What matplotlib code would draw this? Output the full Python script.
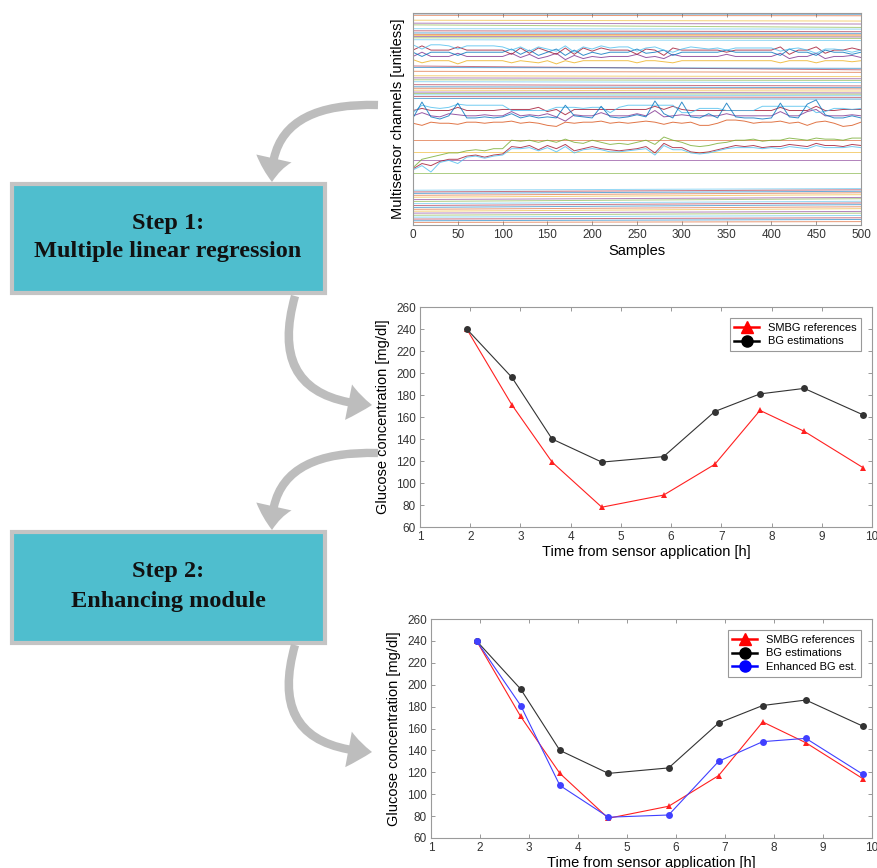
import matplotlib

matplotlib.use("Agg")
import matplotlib.pyplot as plt  # noqa: E402
from matplotlib.lines import Line2D  # noqa: E402
from matplotlib.patches import FancyArrowPatch, Rectangle  # noqa: E402
from matplotlib.path import Path  # noqa: E402

plt.rcParams["font.family"] = ["Liberation Sans", "DejaVu Sans"]

# --- top panel: multisensor channels (arbitrary units, 0..100) ---
sample_grid = list(range(0, 501, 10))

# near-flat channels: level at sample 0 and at sample 500
flat_start = [99.6, 98.9, 96.6, 95.2, 94.4, 92.6, 91.6, 90.6, 89.9, 89.4, 88.9,
              88.3, 87.4, 75.0, 74.3, 72.5, 70.4, 69.4, 68.5, 67.6, 66.2, 65.2,
              64.5, 63.6, 62.7, 62.0, 61.4, 60.6, 59.7, 40.2, 34.4, 30.7, 24.5,
              16.4, 15.6, 14.9, 14.0, 13.1, 12.0, 11.1, 10.1, 9.2, 8.3, 7.4,
              6.5, 5.6, 4.6, 3.7, 2.8, 2.0, 1.2]
flat_end = [99.4, 98.7, 96.2, 94.8, 93.2, 92.4, 91.2, 90.4, 89.7, 89.2, 88.7,
            88.0, 87.0, 73.2, 73.9, 72.0, 70.0, 69.0, 68.2, 67.2, 65.6, 64.8,
            64.2, 63.2, 62.3, 61.7, 61.0, 60.2, 59.4, 40.2, 34.4, 30.7, 24.5,
            17.2, 16.6, 15.9, 15.2, 14.3, 13.0, 12.4, 11.2, 10.4, 9.6, 8.6,
            7.7, 6.4, 5.6, 4.5, 3.4, 2.6, 1.6]

# noisy channels, read every 10 samples
n1_cyan = [85.0, 83.0, 85.0, 85.0, 84.5, 83.0, 84.5, 84.5, 84.5, 84.5, 84.0,
           82.5, 84.0, 82.0, 84.0, 83.0, 82.0, 84.5, 81.5, 84.0, 83.0, 84.5,
           83.5, 84.0, 84.0, 82.0, 83.5, 84.0, 82.5, 81.5, 83.0, 84.0, 83.5,
           83.0, 83.5, 82.5, 83.5, 83.5, 83.5, 83.5, 83.5, 82.0, 83.0, 83.5,
           82.5, 81.0, 83.0, 83.0, 82.5, 81.5, 82.5]
n1_blue = [81.5, 79.5, 81.5, 81.5, 81.5, 80.0, 81.5, 81.5, 81.5, 81.5, 81.5,
           83.0, 80.5, 82.5, 80.0, 81.5, 83.0, 80.0, 82.5, 80.0, 81.5, 80.5,
           81.5, 81.5, 81.5, 83.0, 81.0, 81.5, 82.5, 80.0, 81.5, 81.5, 81.5,
           81.5, 81.5, 82.5, 81.5, 81.5, 81.5, 81.5, 81.5, 80.0, 83.0, 81.5,
           81.5, 80.0, 82.5, 81.5, 81.5, 80.5, 81.5]
n1_red = [82.5, 84.5, 82.5, 82.5, 82.5, 84.0, 82.5, 82.5, 82.5, 82.5, 82.5,
          80.5, 83.5, 81.0, 83.5, 82.0, 80.5, 83.5, 80.5, 83.5, 82.0, 83.5,
          82.5, 82.5, 82.5, 80.5, 83.0, 82.5, 80.0, 83.5, 82.5, 82.5, 82.5,
          82.5, 82.5, 81.5, 82.5, 82.5, 82.5, 82.5, 82.5, 84.0, 80.5, 82.5,
          82.5, 84.0, 81.0, 82.5, 82.5, 83.5, 82.5]
n1_purple = [79.5, 81.5, 79.5, 79.5, 79.5, 81.0, 79.5, 79.5, 79.5, 79.5, 79.5,
             81.0, 79.0, 80.5, 78.5, 79.5, 81.0, 78.0, 80.0, 78.5, 79.5, 79.0,
             79.5, 79.5, 79.5, 80.5, 79.0, 79.5, 78.5, 80.5, 79.5, 79.5, 79.5,
             79.5, 79.5, 80.5, 79.5, 79.5, 79.5, 79.5, 79.5, 81.0, 78.5, 79.5,
             79.5, 81.0, 78.5, 79.5, 79.5, 80.0, 79.0]
n1_yellow = [78.0, 76.5, 77.5, 77.5, 77.5, 76.0, 77.5, 77.5, 77.5, 77.5, 77.5,
             76.5, 77.5, 77.0, 76.5, 77.5, 76.0, 77.5, 76.5, 77.5, 77.5, 77.5,
             77.5, 77.5, 77.5, 76.5, 77.5, 77.5, 77.0, 76.5, 77.5, 77.5, 77.5,
             77.5, 77.5, 77.5, 77.5, 77.5, 77.5, 77.5, 77.5, 76.5, 77.5, 77.5,
             77.5, 76.5, 77.5, 77.5, 77.5, 77.0, 77.5]

n2_cyan = [53.0, 56.5, 55.5, 55.0, 55.5, 57.0, 56.5, 56.5, 56.5, 56.5, 56.5,
           54.0, 54.0, 54.0, 54.0, 54.0, 55.5, 55.5, 55.5, 55.0, 55.5, 55.5,
           53.0, 55.5, 56.5, 56.5, 56.5, 56.5, 56.5, 56.5, 53.0, 53.0, 55.0,
           55.0, 55.0, 54.0, 54.0, 54.0, 54.0, 56.0, 56.0, 56.0, 56.0, 56.0,
           56.0, 53.0, 53.5, 55.0, 55.0, 54.5, 55.0]
n2_red = [54.0, 55.0, 54.0, 54.0, 54.0, 55.5, 54.0, 54.0, 54.0, 54.0, 54.5,
          54.5, 54.5, 54.5, 55.5, 53.5, 54.5, 52.0, 54.5, 54.5, 54.5, 54.5,
          54.5, 54.5, 54.5, 54.5, 54.5, 56.0, 54.5, 56.0, 54.5, 54.0, 54.0,
          54.0, 54.0, 54.0, 54.0, 54.0, 54.0, 54.0, 54.0, 55.5, 54.0, 54.0,
          54.0, 56.0, 54.0, 54.0, 54.5, 54.5, 54.5]
n2_blue = [50.5, 58.0, 51.0, 50.0, 51.5, 57.5, 50.5, 50.5, 51.0, 50.5, 51.0,
           52.5, 50.5, 51.5, 50.5, 51.0, 50.5, 56.5, 51.5, 51.0, 50.5, 56.0,
           51.0, 50.5, 51.0, 52.0, 51.0, 58.5, 52.5, 50.5, 58.0, 51.0, 50.5,
           52.5, 50.5, 57.5, 51.0, 50.5, 50.5, 50.0, 50.5, 57.5, 51.0, 50.5,
           57.0, 59.0, 52.0, 50.5, 50.5, 51.5, 50.5]
n2_orange = [48.0, 47.0, 48.5, 48.0, 48.0, 47.5, 48.5, 48.5, 48.0, 48.5, 48.5,
             49.0, 48.0, 48.5, 48.0, 47.0, 46.5, 48.5, 48.0, 48.5, 48.5, 49.0,
             48.0, 48.5, 48.0, 48.5, 49.0, 48.5, 47.5, 48.5, 48.0, 48.5, 47.0,
             47.0, 48.0, 49.5, 49.5, 49.0, 48.0, 48.5, 48.5, 49.0, 48.0, 48.5,
             47.0, 48.5, 49.0, 48.0, 46.5, 47.0, 48.5]
n2_purple = [51.5, 53.0, 51.5, 51.0, 52.5, 52.0, 51.5, 51.5, 52.0, 51.5, 51.5,
             53.5, 51.5, 52.0, 51.5, 52.5, 51.0, 49.0, 52.0, 51.5, 51.5, 53.0,
             51.5, 51.5, 51.5, 52.5, 51.5, 54.0, 51.0, 51.5, 52.0, 51.5, 51.5,
             51.5, 51.5, 52.5, 51.5, 51.5, 51.5, 51.5, 51.5, 53.5, 51.5, 51.5,
             53.5, 54.5, 51.5, 51.5, 51.5, 52.0, 51.5]

n3_green = [27.0, 31.0, 32.0, 33.0, 34.0, 34.0, 35.0, 35.5, 35.0, 36.0, 36.0,
            40.0, 39.5, 40.0, 39.0, 40.0, 39.0, 40.5, 39.0, 38.5, 40.0, 39.0,
            38.0, 38.5, 38.0, 39.0, 40.0, 38.0, 41.5, 40.0, 39.0, 37.5, 37.0,
            37.5, 38.5, 39.0, 40.0, 40.0, 40.5, 39.5, 40.0, 40.0, 41.0, 40.5,
            40.0, 41.0, 40.5, 40.5, 40.0, 41.0, 41.0]
n3_red = [26.5, 29.0, 28.0, 30.0, 31.0, 31.0, 32.5, 33.0, 32.0, 33.0, 33.5,
          37.0, 36.5, 37.5, 35.5, 37.5, 36.0, 38.0, 35.0, 36.0, 37.0, 36.0,
          35.5, 35.0, 35.5, 36.0, 37.0, 34.0, 38.5, 36.5, 36.5, 34.5, 34.0,
          34.5, 35.5, 36.5, 37.5, 37.0, 37.5, 36.5, 37.0, 37.0, 38.0, 37.5,
          37.0, 38.5, 37.5, 37.5, 37.0, 38.0, 37.5]
n3_cyan = [26.0, 28.0, 25.0, 29.5, 30.5, 29.0, 32.0, 32.5, 31.5, 32.5, 33.0,
           36.0, 36.0, 36.5, 35.0, 36.5, 34.5, 37.0, 34.0, 35.5, 36.0, 35.5,
           34.5, 34.5, 35.0, 35.5, 36.0, 33.0, 37.5, 35.5, 35.5, 34.0, 33.5,
           34.0, 35.0, 36.0, 36.5, 36.5, 36.5, 36.0, 36.5, 36.0, 37.0, 36.5,
           36.0, 37.5, 36.5, 36.5, 36.5, 37.0, 36.5]

# --- glucose panels ---
hours = [1.93, 2.83, 3.63, 4.62, 5.85, 6.87, 7.77, 8.65, 9.82]
smbg = [240, 171, 119, 78, 89, 117, 166, 147, 114]
bg_est = [240, 196, 140, 119, 124, 165, 181, 186, 162]
bg_enh = [240, 181, 108, 79, 81, 130, 148, 151, 118]

steps = ["Step 1:\nMultiple linear regression", "Step 2:\nEnhancing module"]

W, H = 877, 868
PAL = ["#0072BD", "#D95319", "#EDB120", "#7E2F8E", "#77AC30", "#4DBEEE", "#A2142F"]


def frac(x0, y0, x1, y1):
    """pixel box (top-left origin) -> figure fraction rect"""
    return [x0 / W, 1 - y1 / H, (x1 - x0) / W, (y1 - y0) / H]


def matlab_axes(ax):
    for s in ax.spines.values():
        s.set_color("#9a9a9a")
        s.set_linewidth(0.8)
    ax.tick_params(direction="in", top=True, right=True, length=3,
                   width=0.6, color="#888888", labelsize=8.5,
                   labelcolor="#333333", pad=3)


fig = plt.figure(figsize=(W / 100, H / 100), dpi=100)

# overlay for boxes and arrows
ov = fig.add_axes([0, 0, 1, 1], zorder=0)
ov.set_xlim(0, W)
ov.set_ylim(H, 0)
ov.axis("off")

for (y0, y1), label in zip([(184, 293), (532, 643)], steps):
    ov.add_patch(Rectangle((12, y0), 313, y1 - y0, facecolor="#4FBECE",
                           edgecolor="#C4C4C4", lw=3))
    ov.text(168, (y0 + y1) / 2 - 1, label, ha="center", va="center",
            fontsize=17.5, fontweight="bold", family="Liberation Serif",
            color="#111111", linespacing=1.5)

arrows = [((378, 105), (269, 102), (272, 182)),
          ((295, 296), (266, 399), (372, 405)),
          ((378, 453), (269, 450), (272, 530)),
          ((295, 645), (266, 747), (372, 752))]
for p0, pc, p1 in arrows:
    path = Path([p0, pc, p1], [Path.MOVETO, Path.CURVE3, Path.CURVE3])
    ov.add_patch(FancyArrowPatch(
        path=path, arrowstyle="simple,head_length=17,head_width=26,tail_width=6",
        color="#BDBDBD", lw=0))

# top panel
ax0 = fig.add_axes(frac(413, 13, 861, 225))
for i, (a, b) in enumerate(zip(flat_start, flat_end)):
    ax0.plot([0, 500], [a, b], color=PAL[i % 7], lw=0.7, alpha=0.6)
noisy = [(n1_yellow, 2), (n1_purple, 3), (n1_red, 6), (n1_blue, 0),
         (n1_cyan, 5), (n2_orange, 1), (n2_purple, 3), (n2_red, 6),
         (n2_cyan, 5), (n2_blue, 0), (n3_green, 4), (n3_red, 6), (n3_cyan, 5)]
for series, ci in noisy:
    ax0.plot(sample_grid, series, color=PAL[ci], lw=0.7, alpha=0.8)
ax0.set_xlim(0, 500)
ax0.set_ylim(0, 100)
ax0.set_xticks(range(0, 501, 50))
ax0.set_yticks([])
matlab_axes(ax0)
ax0.set_xlabel("Samples", fontsize=10.5, labelpad=2)
ax0.set_ylabel("Multisensor channels [unitless]", fontsize=10.5, labelpad=6)

# glucose panels
panel_boxes = [(420, 307, 872, 527), (431, 619, 872, 838)]
for k, box in enumerate(panel_boxes):
    ax = fig.add_axes(frac(*box))
    ax.plot(hours, smbg, color="#FF2020", lw=0.8, marker="^", ms=5,
            markeredgewidth=0)
    ax.plot(hours, bg_est, color="#333333", lw=0.8, marker="o", ms=5,
            markeredgewidth=0)
    handles = [Line2D([], [], color="red", lw=1.8, marker="^", ms=9,
                      label="SMBG references"),
               Line2D([], [], color="black", lw=1.8, marker="o", ms=8,
                      label="BG estimations")]
    if k == 1:
        ax.plot(hours, bg_enh, color="#4040FF", lw=0.8, marker="o", ms=5,
                markeredgewidth=0)
        handles.append(Line2D([], [], color="blue", lw=1.8, marker="o", ms=8,
                              label="Enhanced BG est."))
    ax.set_xlim(1, 10)
    ax.set_ylim(60, 260)
    ax.set_xticks(range(1, 11))
    ax.set_yticks(range(60, 261, 20))
    matlab_axes(ax)
    ax.set_xlabel("Time from sensor application [h]", fontsize=10.5, labelpad=1)
    ax.set_ylabel("Glucose concentration [mg/dl]", fontsize=10.5, labelpad=4)
    leg = ax.legend(handles=handles, loc="upper right", fontsize=8,
                    fancybox=False, framealpha=1, edgecolor="#999999",
                    handlelength=2.2, labelspacing=0.35, borderaxespad=1.0)
    leg.get_frame().set_linewidth(0.8)

fig.savefig("out.png", dpi=100)
